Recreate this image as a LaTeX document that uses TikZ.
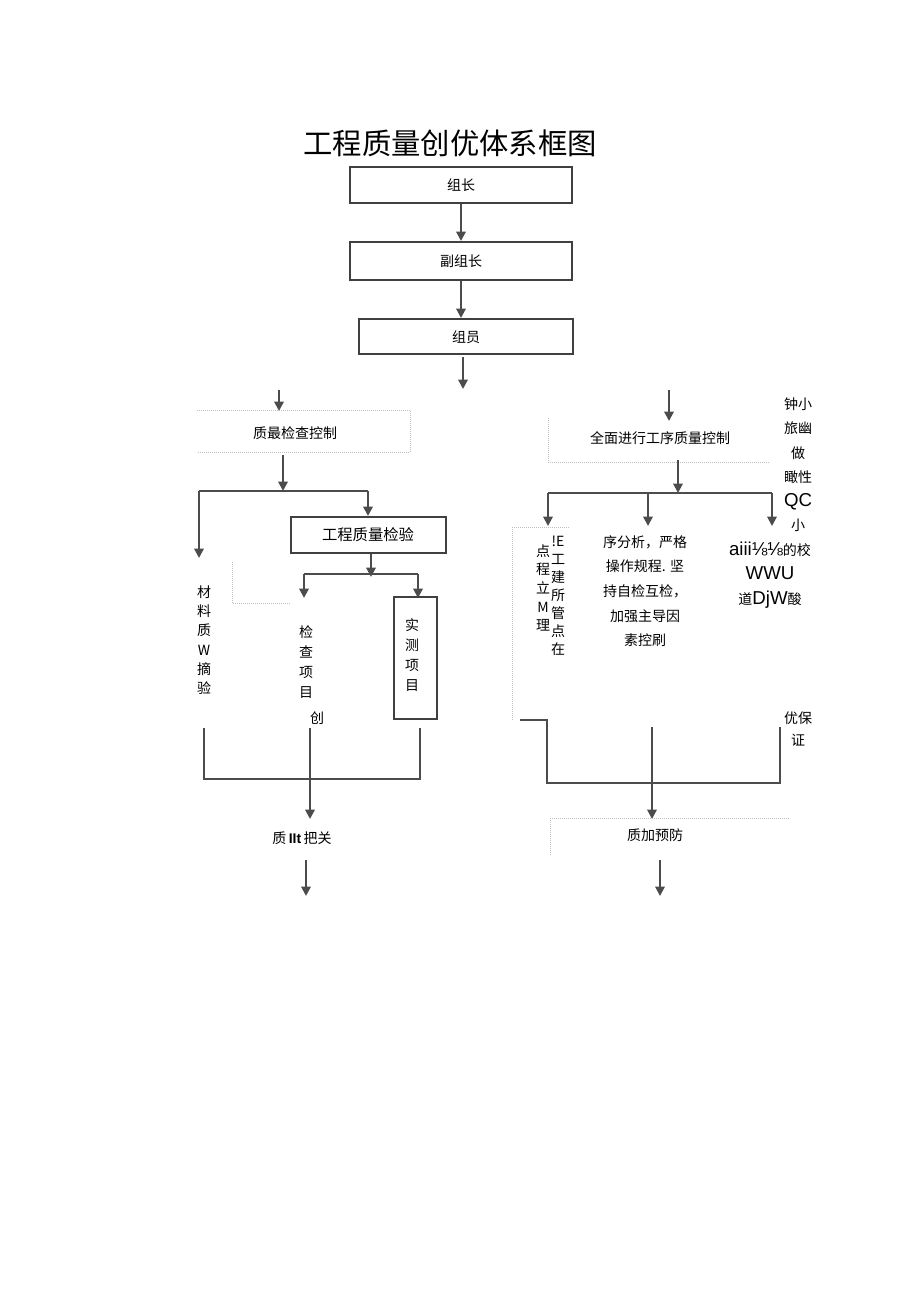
\documentclass[tikz,border=0pt]{standalone}
\usepackage{fontspec}
\setmainfont{Liberation Sans}
\newfontfamily\cjk{Noto Sans CJK SC}
\usetikzlibrary{arrows.meta}
\begin{document}
\begin{tikzpicture}[x=0.75pt,y=-0.75pt,
 box/.style={draw=black!75,line width=1.2pt},
 ln/.style={draw=black!70,line width=1.5pt},
 ar/.style={ln,-{Triangle[length=7pt,width=7pt]}},
 t/.style={font=\cjk\fontsize{10.5}{12}\selectfont,inner sep=0},
 vt/.style={t,align=center,font=\cjk\fontsize{10.5}{15}\selectfont},
 dot/.style={draw=black!25,densely dotted,line width=0.5pt}]
\useasboundingbox (0,0) rectangle (920,1301);
\node[font=\cjk\fontsize{22}{24}\selectfont,inner sep=0] (title) at (450,143) {工程质量创优体系框图};
\draw[box] (350,167) rectangle (572,203); \node[t] (zz) at (461,185) {组长};
\draw[box] (350,242) rectangle (572,280); \node[t] (fz) at (461,261) {副组长};
\draw[box] (359,319) rectangle (573,354); \node[t] (zy) at (466,337) {组员};
\coordinate (a1) at (461,204); \coordinate (a2) at (461,241);
\coordinate (b1) at (461,281); \coordinate (b2) at (461,318);
\coordinate (c1) at (463,357); \coordinate (c2) at (463,389);
\draw[ar] (a1)--(a2); \draw[ar] (b1)--(b2); \draw[ar] (c1)--(c2);
% left branch
\coordinate (l1) at (279,390); \coordinate (l2) at (279,411);
\draw[ar] (l1)--(l2);
\draw[dot] (197,410)--(410,410)--(410,452)--(197,452);
\node[t] (zc) at (295,433) {质最检查控制};
\coordinate (l3) at (283,455); \coordinate (l4) at (283,491);
\draw[ar] (l3)--(l4);
\coordinate (h1) at (199,491); \coordinate (h2) at (368,491);
\coordinate (h1d) at (199,558); \coordinate (h2d) at (368,516);
\draw[ar] (h1)--(h1d); \draw[ln] (h1)--(h2); \draw[ar] (h2)--(h2d);
\draw[box] (291,517) rectangle (446,553);
\node[t,font=\cjk\fontsize{11.5}{13}\selectfont] (gc) at (368,535) {工程质量检验};
\coordinate (g1) at (371,554); \coordinate (g2) at (371,577);
\draw[ar] (g1)--(g2);
\coordinate (k1) at (304,574); \coordinate (k2) at (418,574);
\coordinate (k1d) at (304,598); \coordinate (k2d) at (418,598);
\draw[ln] (k1)--(k2); \draw[ar] (k1)--(k1d); \draw[ar] (k2)--(k2d);
\draw[box] (394,597) rectangle (437,719);
\node[vt] (sc) at (412,655) {实\\测\\项\\目};
\draw[dot] (232,562)--(232,603)--(290,603);
\node[vt,font=\cjk\fontsize{10.5}{14.5}\selectfont] (cl) at (204,640) {材\\料\\质\\W\\摘\\验};
\node[vt] (jc) at (306,662) {检\\查\\项\\目};
\node[t] (ch) at (317,718) {创};
\coordinate (p1) at (204,728); \coordinate (p2) at (204,779);
\coordinate (p3) at (420,728); \coordinate (p4) at (420,779);
\coordinate (p5) at (310,728); \coordinate (p6) at (310,819);
\draw[ln] (p1)--(p2)--(p4)--(p3); \draw[ar] (p5)--(p6);
\node[t] (zl) at (302,838) {质\,{\fontspec{Liberation Sans}\bfseries IIt}\,把关};
\coordinate (q1) at (306,860); \coordinate (q2) at (306,896);
\draw[ar] (q1)--(q2);
% right branch
\coordinate (r1) at (669,390); \coordinate (r2) at (669,421);
\draw[ar] (r1)--(r2);
\draw[dot] (548,418)--(548,462)--(770,462);
\node[t] (qm) at (660,438) {全面进行工序质量控制};
\coordinate (r3) at (678,460); \coordinate (r4) at (678,493);
\draw[ar] (r3)--(r4);
\coordinate (s1) at (548,493); \coordinate (s3) at (772,493); \coordinate (s2) at (648,493);
\coordinate (s1d) at (548,526); \coordinate (s2d) at (648,526); \coordinate (s3d) at (772,526);
\draw[ln] (s1)--(s3); \draw[ar] (s1)--(s1d); \draw[ar] (s2)--(s2d); \draw[ar] (s3)--(s3d);
\draw[dot] (512,527)--(512,720); \draw[dot] (512,527)--(570,527);
\node[vt,font=\cjk\fontsize{10.5}{13.5}\selectfont] (vr) at (558,596) {!E\\工\\建\\所\\管\\点\\在};
\node[vt,font=\cjk\fontsize{10.5}{14}\selectfont] (vl) at (543,588) {点\\程\\立\\M\\理};
\node[t,align=center,font=\cjk\fontsize{10.5}{18.5}\selectfont] (mid) at (645,591) {序分析，严格\\操作规程. 坚\\持自检互检，\\加强主导因\\素控刷};
\node[t,align=center,font=\cjk\fontsize{10.5}{18.5}\selectfont] (rt) at (770,575) {{\fontspec{Liberation Sans}\fontsize{14}{14}\selectfont aiii⅛⅛}的校\\{\fontspec{Liberation Sans}\fontsize{14}{14}\selectfont WWU}\\道{\fontspec{Liberation Sans}\fontsize{14}{14}\selectfont DjW}酸};
\node[t,align=center,font=\cjk\fontsize{10.5}{18.2}\selectfont] (fr) at (798,465) {钟小\\旅幽\\做\\瞰性\\{\fontspec{Liberation Sans}\fontsize{14}{14}\selectfont QC}\\小};
\node[t,align=center,font=\cjk\fontsize{10.5}{16.5}\selectfont] (yb) at (798,729) {优保\\证};
\coordinate (u0) at (520,720); \coordinate (u1) at (547,720); \coordinate (u2) at (547,783);
\coordinate (u3) at (780,783); \coordinate (u4) at (780,727);
\coordinate (u5) at (652,727); \coordinate (u6) at (652,819);
\draw[ln] (u0)--(u1)--(u2)--(u3)--(u4); \draw[ar] (u5)--(u6);
\draw[dot] (550,818)--(790,818); \draw[dot] (550,818)--(550,855);
\node[t] (yf) at (655,835) {质加预防};
\coordinate (v1) at (660,860); \coordinate (v2) at (660,896);
\draw[ar] (v1)--(v2);
\end{tikzpicture}
\end{document}
